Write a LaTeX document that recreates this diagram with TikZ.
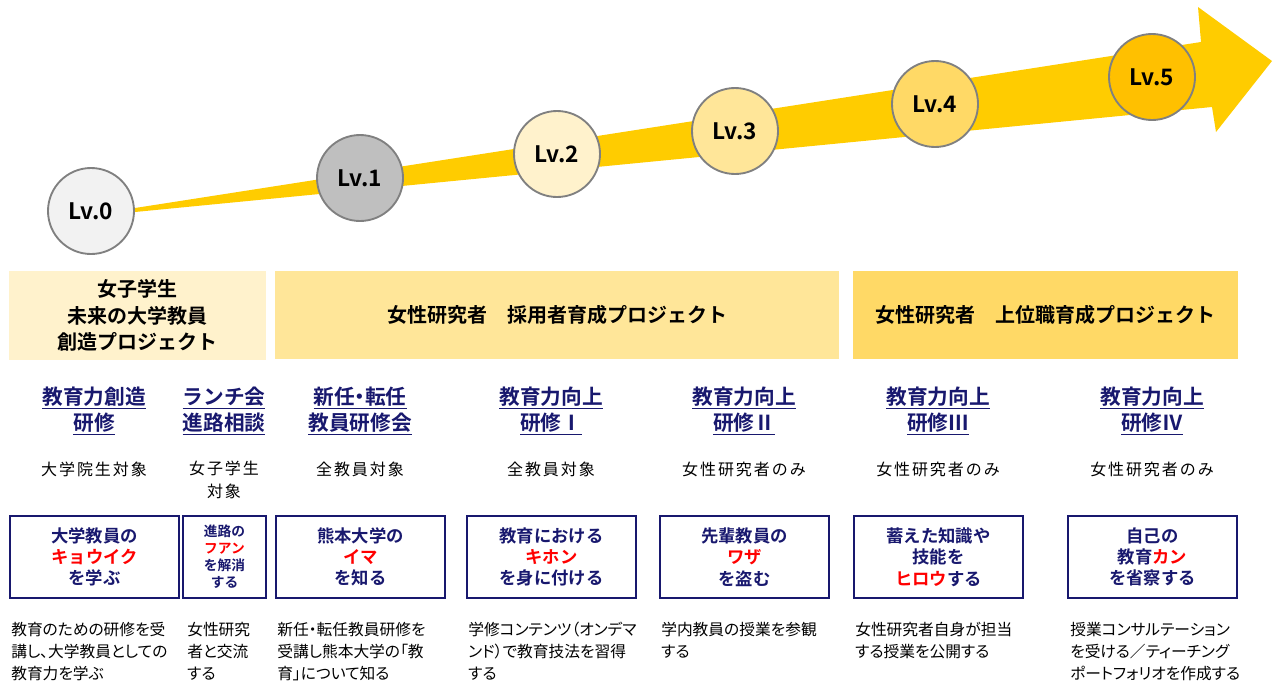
\documentclass[tikz,border=0pt]{standalone}
\usepackage{fontspec}
\setmainfont{Noto Sans CJK JP}[BoldFont={Noto Sans CJK JP Bold}]
\newfontfamily\jpls{Noto Sans CJK JP}[LetterSpace=12]
\newfontfamily\jpp{Noto Sans CJK JP}[RawFeature=+palt]
\newfontfamily\jph{Noto Sans CJK JP}[RawFeature=+halt, BoldFont={Noto Sans CJK JP Bold}]
\usetikzlibrary{fit}
\definecolor{gold}{RGB}{255,204,0}
\definecolor{lvzero}{RGB}{242,242,242}
\definecolor{lvone}{RGB}{191,191,191}
\definecolor{lvtwo}{RGB}{255,242,204}
\definecolor{lvthree}{RGB}{255,230,153}
\definecolor{lvfour}{RGB}{255,217,102}
\definecolor{lvfive}{RGB}{255,192,0}
\definecolor{ringgray}{RGB}{128,128,128}
\definecolor{navyc}{RGB}{24,24,110}
\definecolor{redc}{RGB}{255,0,0}
\begin{document}
\begin{tikzpicture}[x=0.75pt,y=-0.75pt,
  lv/.style={circle, draw=ringgray, line width=1.4pt, minimum size=64.5pt, inner sep=0pt,
    font=\fontsize{17}{20}\selectfont\bfseries},
  band/.style={inner sep=0pt, draw=none, align=center, font=\fontsize{15}{20}\selectfont\bfseries},
  ttl/.style={align=center, inner sep=0pt, text=navyc, font=\jph\fontsize{15.5}{19.5}\selectfont\bfseries},
  tgt/.style={align=center, inner sep=0pt, font=\fontsize{12}{17}\selectfont\jpls},
  bx/.style={draw=navyc, line width=1.2pt, inner sep=0pt, align=center, text=navyc,
    font=\fontsize{13}{16}\selectfont\bfseries},
  bxs/.style={bx, font=\fontsize{10.3}{12.75}\selectfont\bfseries},
  desc/.style={align=left, inner sep=0pt, anchor=north west, font=\jpp\fontsize{11.8}{16.5}\selectfont},
]
\useasboundingbox (0,0) rectangle (1274,686);
% rising arrow
\fill[gold] (135,208) -- (1201,42) -- (1198,7) -- (1272,61) -- (1216,132) -- (1212,107) -- (135,212) -- cycle;
% level circles
\node[lv, fill=lvzero]  (L0) at (91,211)  {Lv.0};
\node[lv, fill=lvone]   (L1) at (360,178) {Lv.1};
\node[lv, fill=lvtwo]   (L2) at (557,154) {Lv.2};
\node[lv, fill=lvthree] (L3) at (735,131) {Lv.3};
\node[lv, fill=lvfour]  (L4) at (935,104) {Lv.4};
\node[lv, fill=lvfive]  (L5) at (1152,77) {Lv.5};
% project bands
\node[band, fill=lvtwo, fit={(9,271) (266,360)}] (P1) {};
\node[band] (P1t) at (P1.center) {女子学生\\未来の大学教員\\創造プロジェクト};
\node[band, fill=lvthree, fit={(275,271) (839,359)}] (P2) {};
\node[band] (P2t) at (P2.center) {女性研究者　採用者育成プロジェクト};
\node[band, fill=lvfour, fit={(853,271) (1238,359)}] (P3) {};
\node[band] (P3t) at (P3.center) {女性研究者　上位職育成プロジェクト};
% course titles
\node[ttl] (T1) at (94,411)   {\underline{教育力創造}\\\underline{研修}};
\node[ttl] (T2) at (224,411)  {\underline{ランチ会}\\\underline{進路相談}};
\node[ttl] (T3) at (360,411)  {\underline{新任・転任}\\\underline{教員研修会}};
\node[ttl] (T4) at (551,411)  {\underline{教育力向上}\\\underline{研修Ⅰ}};
\node[ttl] (T5) at (744,411)  {\underline{教育力向上}\\\underline{研修Ⅱ}};
\node[ttl] (T6) at (938,411)  {\underline{教育力向上}\\\underline{研修Ⅲ}};
\node[ttl] (T7) at (1152,411) {\underline{教育力向上}\\\underline{研修Ⅳ}};
% targets
\node[tgt] (G1) at (94,469)   {大学院生対象};
\node[tgt] (G2) at (224,480)  {女子学生\\対象};
\node[tgt] (G3) at (360,469)  {全教員対象};
\node[tgt] (G4) at (551,469)  {全教員対象};
\node[tgt] (G5) at (744,469)  {女性研究者のみ};
\node[tgt] (G6) at (938,469)  {女性研究者のみ};
\node[tgt] (G7) at (1152,469) {女性研究者のみ};
% goal boxes
\node[bx, fit={(10,516) (179,598)}] (B1) {};
\node[bx, draw=none, text=navyc] (B1t) at (B1.center) {大学教員の\\\textcolor{redc}{キョウイク}\\を学ぶ};
\node[bxs, fit={(183,516) (266,598)}] (B2) {};
\node[bxs, draw=none] (B2t) at (B2.center) {進路の\\\textcolor{redc}{フアン}\\を解消\\する};
\node[bx, fit={(276,516) (445,598)}] (B3) {};
\node[bx, draw=none] (B3t) at (B3.center) {熊本大学の\\\textcolor{redc}{イマ}\\を知る};
\node[bx, fit={(467,516) (636,598)}] (B4) {};
\node[bx, draw=none] (B4t) at (B4.center) {教育における\\\textcolor{redc}{キホン}\\を身に付ける};
\node[bx, fit={(660,516) (829,598)}] (B5) {};
\node[bx, draw=none] (B5t) at (B5.center) {先輩教員の\\\textcolor{redc}{ワザ}\\を盗む};
\node[bx, fit={(854,516) (1023,598)}] (B6) {};
\node[bx, draw=none] (B6t) at (B6.center) {蓄えた知識や\\技能を\\\textcolor{redc}{ヒロウ}する};
\node[bx, fit={(1068,516) (1237,598)}] (B7) {};
\node[bx, draw=none] (B7t) at (B7.center) {自己の\\教育\textcolor{redc}{カン}\\を省察する};
% descriptions
\node[desc] (D1) at (11,622)   {教育のための研修を受\\講し、大学教員としての\\教育力を学ぶ};
\node[desc] (D2) at (187,622)  {女性研究\\者と交流\\する};
\node[desc] (D3) at (277,622)  {新任・転任教員研修を\\受講し熊本大学の「教\\育」について知る};
\node[desc] (D4) at (468,622)  {学修コンテンツ（オンデマ\\ンド）で教育技法を習得\\する};
\node[desc] (D5) at (661,622)  {学内教員の授業を参観\\する};
\node[desc] (D6) at (855,622)  {女性研究者自身が担当\\する授業を公開する};
\node[desc] (D7) at (1070,622) {授業コンサルテーション\\を受ける／ティーチング\\ポートフォリオを作成する};
\end{tikzpicture}
\end{document}
